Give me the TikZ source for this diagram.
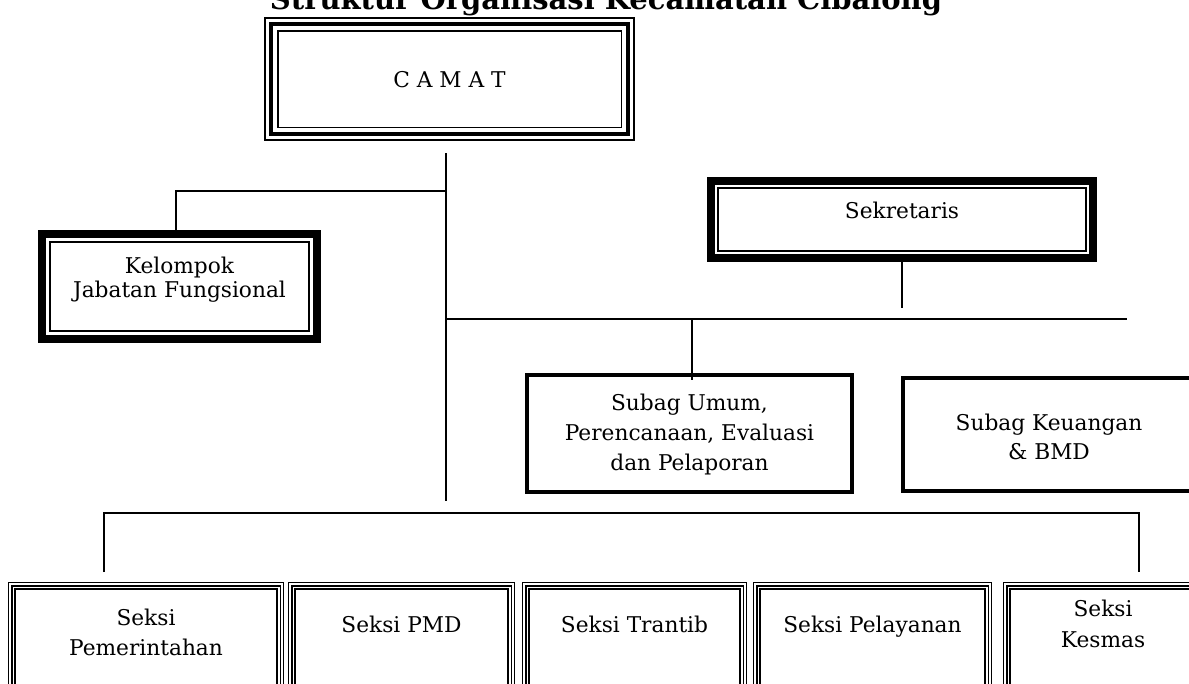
\documentclass[tikz,border=0pt]{standalone}
\usepackage{fontspec}
\setmainfont{DejaVu Serif}
\newcommand\frameline[3]{\draw[line width=#3pt] ([shift={(#2,#2)}]#1.north west) rectangle ([shift={(-#2,-#2)}]#1.south east);}
\newcommand\tripleframe[1]{\frameline{#1}{0.75}{1.4}\frameline{#1}{4}{1.4}\frameline{#1}{7.5}{1.9}}
\begin{document}
\begin{tikzpicture}[x=1pt,y=-1pt,
  area/.style={rectangle,draw=none,inner sep=0pt},
  txt/.style={inner sep=0pt,anchor=base,font=\fontsize{21.7}{24}\selectfont},
  ttl/.style={inner sep=0pt,anchor=base,font=\fontsize{29}{34}\selectfont\bfseries},
  conn/.style={line width=1.7pt}]
\useasboundingbox (0,0) rectangle (1189,683);
% title
\node[ttl] (title) at (606,9.5) {Struktur Organisasi Kecamatan Cibalong};
% boxes
\node[area,minimum width=371pt,minimum height=124pt] (camat) at (449.5,79) {};
\frameline{camat}{1.2}{2.2}\frameline{camat}{7.2}{4.5}\frameline{camat}{13.8}{1.8}
\node[area,minimum width=283pt,minimum height=113pt] (kjf) at (179.5,286.5) {};
\frameline{kjf}{4.25}{8.5}\frameline{kjf}{12}{1.7}
\node[area,minimum width=390pt,minimum height=85pt] (sek) at (902,219.5) {};
\frameline{sek}{4.15}{8.3}\frameline{sek}{11}{1.7}
\node[area,minimum width=329pt,minimum height=121pt] (umum) at (689.5,433.5) {};
\frameline{umum}{2}{4}
\node[area,minimum width=296pt,minimum height=117pt] (keu) at (1049,434.5) {};
\frameline{keu}{2}{4}
\node[area,minimum width=276pt,minimum height=118pt] (pem) at (146,641) {};
\node[area,minimum width=227pt,minimum height=118pt] (pmd) at (401.5,641) {};
\node[area,minimum width=225pt,minimum height=118pt] (tra) at (634.5,641) {};
\node[area,minimum width=239pt,minimum height=118pt] (pel) at (872.5,641) {};
\node[area,minimum width=200pt,minimum height=118pt] (kes) at (1103,641) {};
\tripleframe{pem}\tripleframe{pmd}\tripleframe{tra}\tripleframe{pel}\tripleframe{kes}
% texts
\node[txt] (camatt) at (449.5,87.3) {C A M A T};
\node[txt] (kjfa) at (179.5,273.3) {Kelompok};
\node[txt] (kjfb) at (179.5,297.3) {Jabatan Fungsional};
\node[txt] (sekt) at (902,218.3) {Sekretaris};
\node[txt] (umuma) at (689.5,410) {Subag Umum,};
\node[txt] (umumb) at (689.5,440) {Perencanaan, Evaluasi};
\node[txt] (umumc) at (689.5,470) {dan Pelaporan};
\node[txt] (keua) at (1049,430.7) {Subag Keuangan};
\node[txt] (keub) at (1049,459) {\& BMD};
\node[txt] (pema) at (146,625) {Seksi};
\node[txt] (pemb) at (146,655) {Pemerintahan};
\node[txt] (pmdt) at (401.5,632) {Seksi PMD};
\node[txt] (trat) at (634.5,632) {Seksi Trantib};
\node[txt] (pelt) at (872.5,632) {Seksi Pelayanan};
\node[txt] (kesa) at (1103,616) {Seksi};
\node[txt] (kesb) at (1103,647) {Kesmas};
% connector points
\coordinate (mtop) at (446,153);
\coordinate (mbot) at (446,501);
\coordinate (kj) at (446,191);
\coordinate (kl) at (176,191);
\coordinate (kd) at (176,238);
\coordinate (sj) at (446,319);
\coordinate (sr) at (1127,319);
\coordinate (sb) at (902,308);
\coordinate (uj) at (692,319);
\coordinate (ud) at (692,380);
\coordinate (bl) at (104,513);
\coordinate (br) at (1139,513);
\coordinate (bld) at (104,572);
\coordinate (brd) at (1139,572);
% connectors
\draw[conn] (mtop) -- (mbot);
\draw[conn] (kj) -- (kl) -- (kd);
\draw[conn] (sj) -- (sr);
\draw[conn] (sek.south) -- (sb);
\draw[conn] (uj) -- (ud);
\draw[conn] (bld) -- (bl) -- (br) -- (brd);
\end{tikzpicture}
\end{document}
